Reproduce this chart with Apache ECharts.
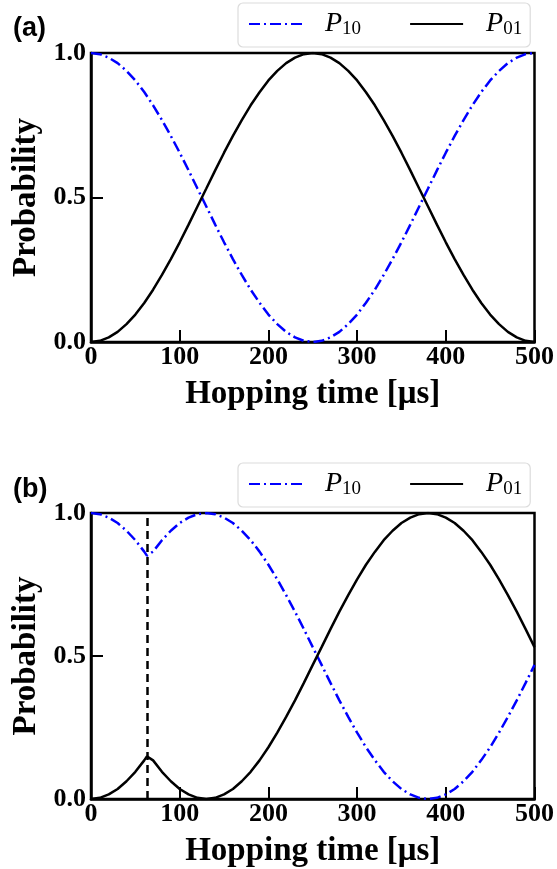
<!DOCTYPE html>
<html>
<head>
<meta charset="utf-8">
<script src="https://cdn.jsdelivr.net/npm/echarts@6/dist/echarts.min.js"></script>
<style>
html,body{margin:0;padding:0;background:#fff;}
#chart{width:557px;height:869px;}
</style>
</head>
<body>
<div id="chart"></div>
<script>
// panel (a): hopping time [us] and probabilities
var timesA = [0,10,20,30,40,50,60,70,80,90,100,110,120,130,140,150,160,170,180,190,200,210,220,230,240,250,260,270,280,290,300,310,320,330,340,350,360,370,380,390,400,410,420,430,440,450,460,470,480,490,500];
var p10A = [1.000,0.996,0.984,0.965,0.938,0.905,0.865,0.819,0.768,0.713,0.655,0.594,0.531,0.469,0.406,0.345,0.287,0.232,0.181,0.136,0.095,0.062,0.035,0.016,0.004,0.000,0.004,0.016,0.035,0.062,0.095,0.136,0.181,0.232,0.287,0.345,0.406,0.469,0.531,0.594,0.655,0.713,0.768,0.819,0.865,0.905,0.938,0.965,0.984,0.996,1.000];
var p01A = [0.000,0.004,0.016,0.035,0.062,0.095,0.135,0.181,0.232,0.287,0.345,0.406,0.469,0.531,0.594,0.655,0.713,0.768,0.819,0.864,0.905,0.938,0.965,0.984,0.996,1.000,0.996,0.984,0.965,0.938,0.905,0.864,0.819,0.768,0.713,0.655,0.594,0.531,0.469,0.406,0.345,0.287,0.232,0.181,0.135,0.095,0.062,0.035,0.016,0.004,0.000];
// panel (b): cusp at 63 us (dashed line)
var timesB = [0,10,20,30,40,50,60,63,70,80,90,100,110,120,130,140,150,160,170,180,190,200,210,220,230,240,250,260,270,280,290,300,310,320,330,340,350,360,370,380,390,400,410,420,430,440,450,460,470,480,490,500];
var p10B = [1.000,0.996,0.984,0.965,0.938,0.905,0.865,0.851,0.865,0.905,0.938,0.965,0.984,0.996,1.000,0.996,0.984,0.965,0.938,0.905,0.865,0.819,0.768,0.713,0.655,0.594,0.531,0.469,0.406,0.345,0.287,0.232,0.181,0.136,0.095,0.062,0.035,0.016,0.004,0.000,0.004,0.016,0.035,0.062,0.095,0.136,0.181,0.232,0.287,0.345,0.406,0.469];
var p01B = [0.000,0.004,0.016,0.035,0.062,0.095,0.135,0.149,0.135,0.095,0.062,0.035,0.016,0.004,0.000,0.004,0.016,0.035,0.062,0.095,0.135,0.181,0.232,0.287,0.345,0.406,0.469,0.531,0.594,0.655,0.713,0.768,0.819,0.864,0.905,0.938,0.965,0.984,0.996,1.000,0.996,0.984,0.965,0.938,0.905,0.864,0.819,0.768,0.713,0.655,0.594,0.531];
var cutTime = 63;
var xTicks = [0,100,200,300,400,500];
var yTicks = [0.0,0.5,1.0];
var panelLabels = ['(a)','(b)'];
var seriesNames = ['P10','P01'];

function pairs(t, v){
	var out = [];
	for (var i = 0; i < t.length; i++) out.push([t[i], v[i]]);
	return out;
}

var tickFont = {fontFamily:'Liberation Serif', fontWeight:'bold', fontSize:26, color:'#000'};
var nameFont = {fontFamily:'Liberation Serif', fontWeight:'bold', fontSize:33, color:'#000'};
var dashDot = [11,4,2,4];

function xAxisFor(idx){
	return {
		gridIndex:idx, type:'value', min:xTicks[0], max:xTicks[xTicks.length-1], interval:100,
		name:'Hopping time [μs]', nameLocation:'middle', nameGap:36, nameTextStyle:nameFont,
		axisLine:{show:true, onZero:false, lineStyle:{color:'#000', width:2.5}},
		axisTick:{show:true, inside:true, length:12, lineStyle:{color:'#000', width:2}},
		axisLabel:Object.assign({margin:2}, tickFont),
		splitLine:{show:false}
	};
}
function yAxisFor(idx){
	return {
		gridIndex:idx, type:'value', min:yTicks[0], max:yTicks[yTicks.length-1], interval:0.5,
		name:'Probability', nameLocation:'middle', nameGap:46, nameRotate:90, nameTextStyle:nameFont,
		axisLine:{show:true, lineStyle:{color:'#000', width:2.5}},
		axisTick:{show:true, inside:true, length:12, lineStyle:{color:'#000', width:2}},
		axisLabel:Object.assign({margin:5, formatter:function(v){return v.toFixed(1);}}, tickFont),
		splitLine:{show:false}
	};
}
function legendFor(top){
	return {
		data:seriesNames, left:238, top:top, orient:'horizontal',
		itemWidth:53, itemHeight:14, itemGap:48,
		padding:[7,8,8,10],
		backgroundColor:'#fff', borderColor:'#dcdcdc', borderWidth:1.2, borderRadius:5,
		itemStyle:{color:'transparent', borderColor:'transparent', borderWidth:0, opacity:0},
		formatter:function(n){ return '{p|P}{s|' + n.slice(1) + '}'; },
		textStyle:{
			rich:{
				p:{fontFamily:'Liberation Serif', fontStyle:'italic', fontSize:28, color:'#000', lineHeight:30, padding:[0,0,0,18]},
				s:{fontFamily:'Liberation Serif', fontSize:19, color:'#000', lineHeight:16, verticalAlign:'bottom'}
			}
		}
	};
}
function lineSeries(name, data, idx, color, type){
	return {
		name:name, type:'line', xAxisIndex:idx, yAxisIndex:idx, data:data,
		symbol:'none', smooth:false, color:color,
		lineStyle:{color:color, width:2.5, type:type},
		z:3
	};
}

var chart = echarts.init(document.getElementById('chart'));
var option = {
	animation:false,
	backgroundColor:'#fff',
	title:[
		{text:panelLabels[0], left:8, top:10, textStyle:{fontFamily:'Liberation Sans', fontWeight:'bold', fontSize:27, color:'#000'}},
		{text:panelLabels[1], left:8, top:471, textStyle:{fontFamily:'Liberation Sans', fontWeight:'bold', fontSize:27, color:'#000'}}
	],
	legend:[legendFor(3), legendFor(463)],
	grid:[
		{left:91, right:21, top:53, height:289, show:true, borderColor:'#000', borderWidth:2.5, backgroundColor:'transparent'},
		{left:91, right:21, top:513, height:289, show:true, borderColor:'#000', borderWidth:2.5, backgroundColor:'transparent'}
	],
	xAxis:[xAxisFor(0), xAxisFor(1)],
	yAxis:[yAxisFor(0), yAxisFor(1)],
	series:[
		lineSeries(seriesNames[0], pairs(timesA, p10A), 0, '#0000ff', dashDot),
		lineSeries(seriesNames[1], pairs(timesA, p01A), 0, '#000000', 'solid'),
		Object.assign(lineSeries(seriesNames[0], pairs(timesB, p10B), 1, '#0000ff', dashDot), {
			markLine:{
				silent:true, symbol:'none', label:{show:false},
				lineStyle:{color:'#000', width:2.5, type:[8,5]},
				data:[{xAxis:cutTime}]
			}
		}),
		lineSeries(seriesNames[1], pairs(timesB, p01B), 1, '#000000', 'solid')
	]
};
chart.setOption(option);
</script>
</body>
</html>
